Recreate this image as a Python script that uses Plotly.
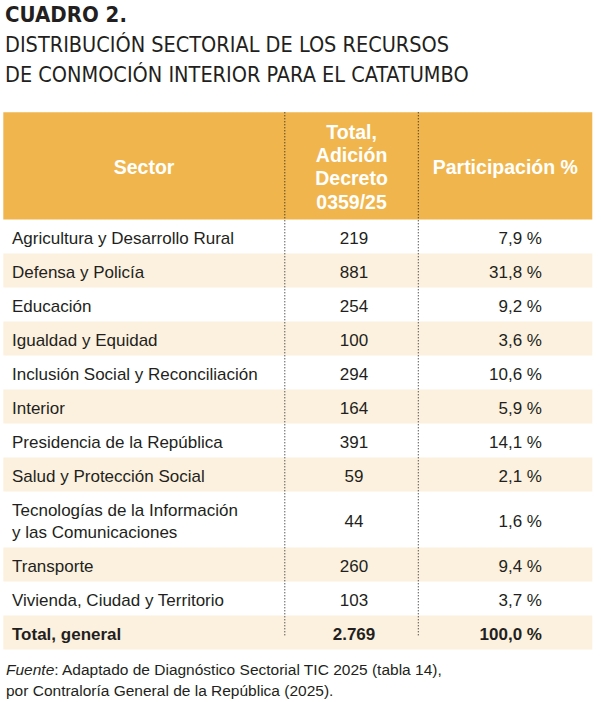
import plotly.graph_objects as go

# Datos del cuadro (miles de millones de pesos)
sectores = [
    "Agricultura y Desarrollo Rural",
    "Defensa y Policía",
    "Educación",
    "Igualdad y Equidad",
    "Inclusión Social y Reconciliación",
    "Interior",
    "Presidencia de la República",
    "Salud y Protección Social",
    "Tecnologías de la Información<br>y las Comunicaciones",
    "Transporte",
    "Vivienda, Ciudad y Territorio",
]
totales = [219, 881, 254, 100, 294, 164, 391, 59, 44, 260, 103]
participacion = [7.9, 31.8, 9.2, 3.6, 10.6, 5.9, 14.1, 2.1, 1.6, 9.4, 3.7]
total_label = "Total, general"
total_general = 2769
participacion_total = 100.0

encabezados = [["Sector"], ["Total,", "Adición", "Decreto", "0359/25"], ["Participación %"]]

titulo = "CUADRO 2."
subtitulo = ["DISTRIBUCIÓN SECTORIAL DE LOS RECURSOS",
             "DE CONMOCIÓN INTERIOR PARA EL CATATUMBO"]
fuente = ["<i>Fuente</i>: Adaptado de Diagnóstico Sectorial TIC 2025 (tabla 14),",
          "por Contraloría General de la República (2025)."]


def miles(v):
    return f"{v:,}".replace(",", ".")


def pct(v):
    return f"{v:.1f} %".replace(".", ",")


# layout (pixel coordinates on hidden axes)
W, H = 601, 702
LEFT, RIGHT = 3.3, 592.3
SEP1, SEP2 = 284.8, 418.3
HEAD_TOP, HEAD_BOT = 112.3, 219.5
HEAD_LINE = 23.3
ROW_H, LINE_H = 34, 22
TEXT_DY = 3  # plotly sets "middle" text a little high
X_COL1, X_COL2, X_COL3 = 12, 354, 542

HEADER_BG = "#F0B64D"
STRIPE_BG = "#FCF1DF"
INK = "#231f20"
BODY_FONT = "Liberation Sans, Arial, sans-serif"
NARROW_FONT = "Liberation Sans Narrow, Arial Narrow, DejaVu Sans Condensed, sans-serif"

col1 = sectores + [f"<b>{total_label}</b>"]
col2 = [miles(v) for v in totales] + [f"<b>{miles(total_general)}</b>"]
col3 = [pct(v) for v in participacion] + [f"<b>{pct(participacion_total)}</b>"]

# row positions
tops, mids, bots = [], [], []
y = HEAD_BOT
for lab in col1:
    h = ROW_H + LINE_H * lab.count("<br>")
    tops.append(y)
    mids.append(y + h / 2)
    bots.append(y + h)
    y += h
text_y = [m + TEXT_DY for m in mids]

fig = go.Figure()

shapes = [dict(type="rect", x0=LEFT, x1=RIGHT, y0=HEAD_TOP, y1=HEAD_BOT,
               fillcolor=HEADER_BG, line_width=0, layer="below")]
for i in range(len(col1)):
    if i % 2 == 1:
        shapes.append(dict(type="rect", x0=LEFT, x1=RIGHT, y0=tops[i], y1=bots[i],
                           fillcolor=STRIPE_BG, line_width=0, layer="below"))
for xs in (SEP1, SEP2):
    shapes.append(dict(type="line", x0=xs, x1=xs, y0=HEAD_TOP, y1=mids[-1] + 4,
                       line=dict(color="#111111", width=1, dash="1px,2px")))

# header text, one point per line
head_mid = (HEAD_TOP + HEAD_BOT) / 2 + TEXT_DY
col_centres = [(LEFT + SEP1) / 2, (SEP1 + SEP2) / 2, (SEP2 + RIGHT) / 2]
hx, hy, ht = [], [], []
for cx, lines in zip(col_centres, encabezados):
    for k, line in enumerate(lines):
        hx.append(cx)
        hy.append(head_mid + (k - (len(lines) - 1) / 2) * HEAD_LINE)
        ht.append(f"<b>{line}</b>")
fig.add_trace(go.Scatter(
    x=hx, y=hy, text=ht,
    mode="text", textposition="middle center",
    textfont=dict(family=BODY_FONT, size=19.5, color="white"),
    hoverinfo="skip",
))

# body text
fig.add_trace(go.Scatter(
    x=[X_COL1] * len(col1), y=text_y, text=col1,
    mode="text", textposition="middle right",
    textfont=dict(family=BODY_FONT, size=17, color=INK),
    hoverinfo="skip",
))
fig.add_trace(go.Scatter(
    x=[X_COL2] * len(col2), y=text_y, text=col2,
    mode="text", textposition="middle center",
    textfont=dict(family=BODY_FONT, size=17, color=INK),
    hoverinfo="skip",
))
fig.add_trace(go.Scatter(
    x=[X_COL3] * len(col3), y=text_y, text=col3,
    mode="text", textposition="middle left",
    textfont=dict(family=BODY_FONT, size=17, color=INK),
    hoverinfo="skip",
))

annotations = [
    dict(x=3, y=14, text=f"<b>{titulo}</b>", showarrow=False, xanchor="left", yanchor="middle",
         font=dict(family=NARROW_FONT, size=22, color=INK)),
    dict(x=3, y=44, text=subtitulo[0], showarrow=False, xanchor="left", yanchor="middle",
         font=dict(family=NARROW_FONT, size=21.5, color=INK)),
    dict(x=3, y=74, text=subtitulo[1], showarrow=False, xanchor="left", yanchor="middle",
         font=dict(family=NARROW_FONT, size=21.5, color=INK)),
    dict(x=4, y=669, text=fuente[0], showarrow=False, xanchor="left", yanchor="middle",
         font=dict(family=BODY_FONT, size=15.5, color=INK)),
    dict(x=4, y=690, text=fuente[1], showarrow=False, xanchor="left", yanchor="middle",
         font=dict(family=BODY_FONT, size=15.5, color=INK)),
]

fig.update_layout(
    width=W, height=H,
    margin=dict(l=0, r=0, t=0, b=0),
    paper_bgcolor="white", plot_bgcolor="white",
    showlegend=False,
    shapes=shapes,
    annotations=annotations,
    xaxis=dict(range=[0, W], visible=False, fixedrange=True),
    yaxis=dict(range=[H, 0], visible=False, fixedrange=True),
)

# the page's default body margin would push the figure 8px off
fig.write_html("out.html", config={"displayModeBar": False},
               post_script="document.body.style.margin = '0';")
